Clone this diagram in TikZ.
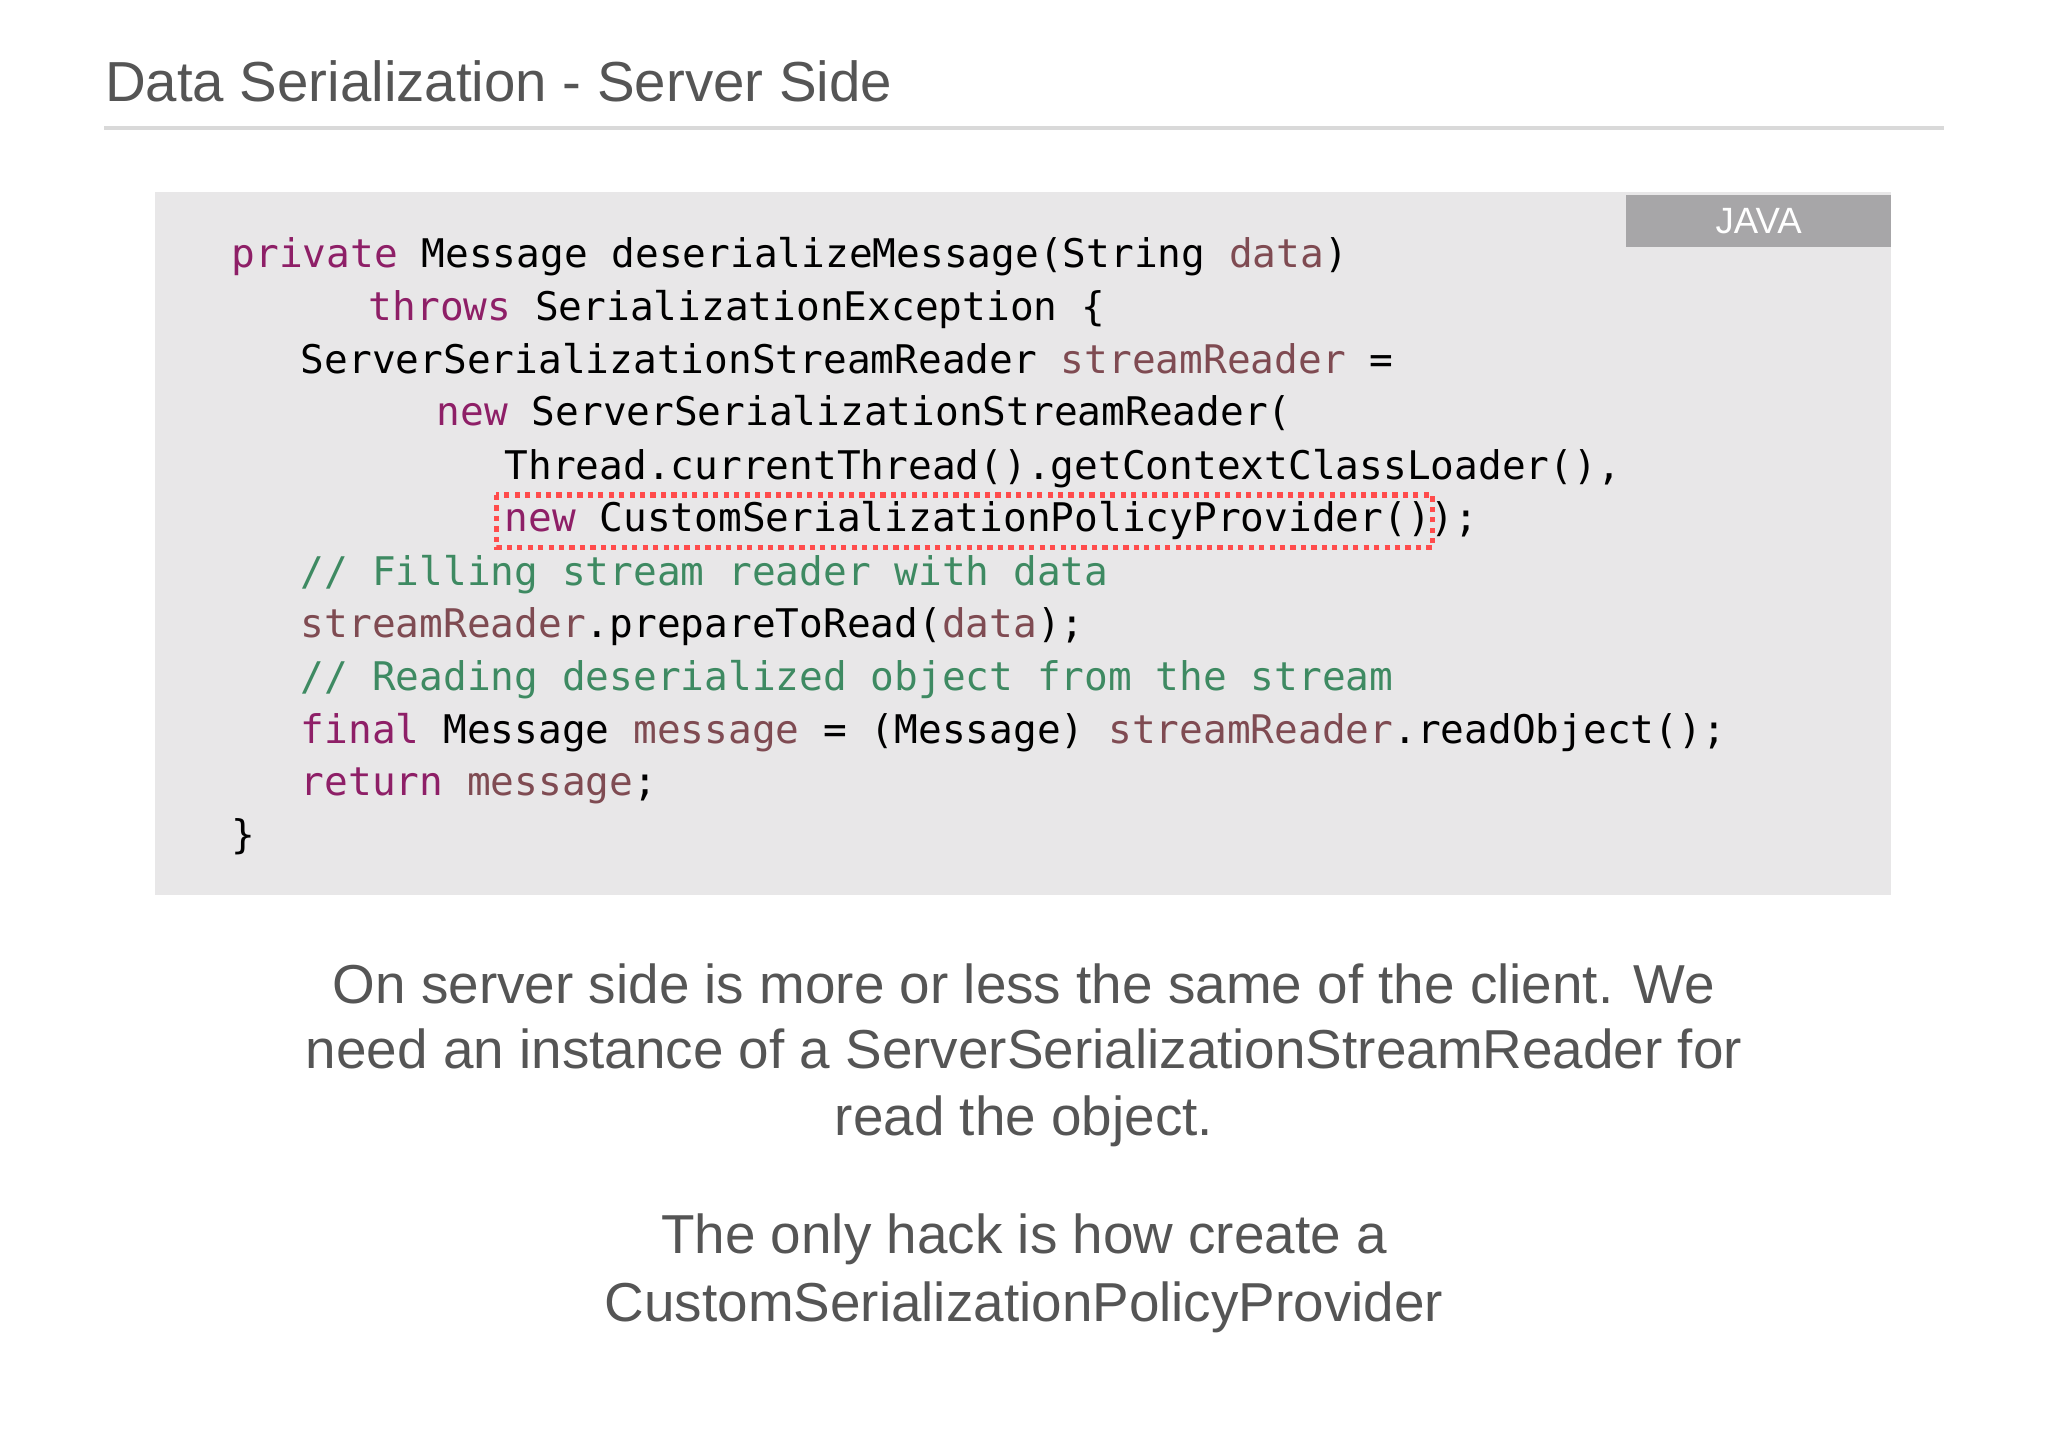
\documentclass[tikz,border=0pt]{standalone}
\usepackage{fontspec}
\setmainfont{Liberation Sans}
\setmonofont{DejaVu Sans Mono}
\definecolor{txt}{HTML}{555555}
\definecolor{kw}{HTML}{8E1F67}
\definecolor{var}{HTML}{7F4B52}
\definecolor{cm}{HTML}{3E8A62}
\definecolor{codebg}{HTML}{E8E7E8}
\definecolor{tag}{HTML}{A7A6A8}
\newcommand{\K}[1]{\textcolor{kw}{#1}}
\newcommand{\V}[1]{\textcolor{var}{#1}}
\newcommand{\C}[1]{\textcolor{cm}{#1}}
\begin{document}
\begin{tikzpicture}[x=0.5pt,y=-0.5pt,
  code/.style={anchor=base west,inner sep=0pt,font=\ttfamily\fontsize{15.1}{18}\selectfont,text=black},
  para/.style={anchor=base,inner sep=0pt,font=\fontsize{21}{25}\selectfont,text=txt}]
\useasboundingbox (0,0) rectangle (1568,1108);
\fill[white] (0,0) rectangle (1568,1108);
\node[anchor=base west,inner sep=0pt,font=\fontsize{21.6}{26}\selectfont,text=txt] (title) at (80,78) {Data Serialization - Server Side};
\draw[line width=1.2pt,black!15] (80,98) -- (1488,98);
\fill[codebg] (119,147) rectangle (1448,685);
\node[fill=tag,minimum width=101.5pt,minimum height=20pt,text=white,font=\fontsize{14}{16}\selectfont,inner sep=0pt] (java) at (1346.5,169) {JAVA};
\node[code] (l1) at (177,205) {\K{private} Message deserializeMessage(String \V{data})};
\node[code] (l2) at (282,245) {\K{throws} SerializationException \{};
\node[code] (l3) at (230,286) {ServerSerializationStreamReader \V{streamReader} =};
\node[code] (l4) at (334,326) {\K{new} ServerSerializationStreamReader(};
\node[code] (l5) at (386,367) {Thread.currentThread().getContextClassLoader(),};
\node[code] (l6) at (386,407) {\K{new} CustomSerializationPolicyProvider());};
\node[code] (l7) at (230,448) {\C{// Filling stream reader with data}};
\node[code] (l8) at (230,488) {\V{streamReader}.prepareToRead(\V{data});};
\node[code] (l9) at (230,529) {\C{// Reading deserialized object from the stream}};
\node[code] (l10) at (230,569) {\K{final} Message \V{message} = (Message) \V{streamReader}.readObject();};
\node[code] (l11) at (230,609) {\K{return} \V{message};};
\node[code] (l12) at (177,650) {\}};
\draw[red!70,line width=2pt,dash pattern=on 2pt off 2pt] (380,379) rectangle (1097,419);
\node[para] (p1) at (784,768) {On server side is more or less the same of the client. We};
\node[para] (p2) at (784,818) {need an instance of a ServerSerializationStreamReader for};
\node[para] (p3) at (784,869) {read the object.};
\node[para] (p4) at (784,960) {The only hack is how create a};
\node[para] (p5) at (784,1012) {CustomSerializationPolicyProvider};
\end{tikzpicture}
\end{document}
